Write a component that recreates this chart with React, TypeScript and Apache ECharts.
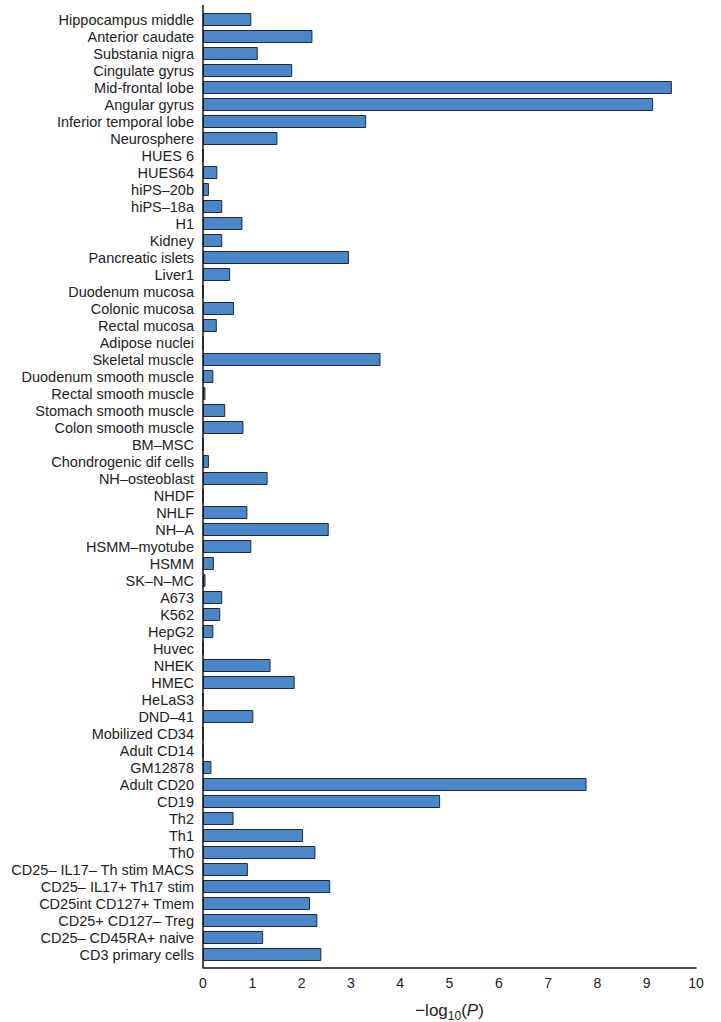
import React, { useEffect, useRef } from "react";
import * as echarts from "echarts";

const categories = [
  "Hippocampus middle", "Anterior caudate", "Substania nigra", "Cingulate gyrus",
  "Mid-frontal lobe", "Angular gyrus", "Inferior temporal lobe", "Neurosphere",
  "HUES 6", "HUES64", "hiPS–20b", "hiPS–18a", "H1", "Kidney", "Pancreatic islets",
  "Liver1", "Duodenum mucosa", "Colonic mucosa", "Rectal mucosa", "Adipose nuclei",
  "Skeletal muscle", "Duodenum smooth muscle", "Rectal smooth muscle",
  "Stomach smooth muscle", "Colon smooth muscle", "BM–MSC", "Chondrogenic dif cells",
  "NH–osteoblast", "NHDF", "NHLF", "NH–A", "HSMM–myotube", "HSMM", "SK–N–MC",
  "A673", "K562", "HepG2", "Huvec", "NHEK", "HMEC", "HeLaS3", "DND–41",
  "Mobilized CD34", "Adult CD14", "GM12878", "Adult CD20", "CD19", "Th2", "Th1",
  "Th0", "CD25– IL17– Th stim MACS", "CD25– IL17+ Th17 stim", "CD25int CD127+ Tmem",
  "CD25+ CD127– Treg", "CD25– CD45RA+ naive", "CD3 primary cells",
];

const values = [
  0.98, 2.22, 1.11, 1.81, 9.51, 9.13, 3.31, 1.51,
  0, 0.29, 0.12, 0.39, 0.8, 0.39, 2.96,
  0.55, 0, 0.63, 0.28, 0,
  3.6, 0.21, 0.05,
  0.45, 0.82, 0, 0.12,
  1.31, 0, 0.9, 2.55, 0.98, 0.22, 0.05,
  0.39, 0.35, 0.21, 0, 1.37, 1.86, 0, 1.02,
  0, 0, 0.17, 7.78, 4.81, 0.62, 2.03,
  2.28, 0.91, 2.58, 2.17,
  2.32, 1.22, 2.4,
];

const xTicks = [0, 1, 2, 3, 4, 5, 6, 7, 8, 9, 10];

const FONT = "'Liberation Sans', Arial, sans-serif";

export default function App() {
  const ref = useRef<HTMLDivElement>(null);
  useEffect(() => {
    if (!ref.current) return;
    const chart = echarts.init(ref.current, null, { renderer: "svg" });
    chart.setOption({
      animation: false,
      backgroundColor: "#ffffff",
      textStyle: { fontFamily: FONT },
      grid: { left: 203, right: 25, top: 11, bottom: 59, containLabel: false, outerBoundsMode: "none" },
      xAxis: {
        type: "value",
        min: xTicks[0],
        max: xTicks[xTicks.length - 1],
        interval: 1,
        offset: 5,
        axisLine: { show: true, lineStyle: { color: "#111", width: 1.5 } },
        axisTick: { show: false },
        splitLine: { show: false },
        axisLabel: { fontSize: 14, color: "#222", margin: 8, fontFamily: FONT },
        name: "{a|−log}{sub|10}{a|(}{i|P}{a|)}",
        nameLocation: "middle",
        nameGap: 29,
        nameTextStyle: {
          rich: {
            a: { fontSize: 17, color: "#222", fontFamily: FONT, lineHeight: 22, verticalAlign: "bottom" },
            i: { fontSize: 17, color: "#222", fontFamily: FONT, fontStyle: "italic", lineHeight: 22, verticalAlign: "bottom" },
            sub: { fontSize: 12, color: "#222", fontFamily: FONT, lineHeight: 22, verticalAlign: "bottom", padding: [0, 0, -3, 0] },
          },
        },
      },
      yAxis: {
        type: "category",
        inverse: true,
        data: categories,
        axisLine: { show: false },
        axisTick: { show: false },
        axisLabel: { interval: 0, fontSize: 14.5, color: "#222", margin: 9, fontFamily: FONT },
      },
      graphic: [
        {
          type: "line",
          shape: { x1: 203, y1: 5, x2: 203, y2: 968 },
          style: { stroke: "#111", lineWidth: 1.5 },
          z: 100,
        },
      ],
      series: [
        {
          type: "bar",
          data: values,
          barWidth: 13,
          itemStyle: { color: "#4a86c8", borderColor: "#1e2a3a", borderWidth: 1 },
        },
      ],
    });
    return () => chart.dispose();
  }, []);
  return (
    <div
      ref={ref}
      style={{ position: "fixed", left: 0, top: 0, width: 721, height: 1022 }}
    />
  );
}
